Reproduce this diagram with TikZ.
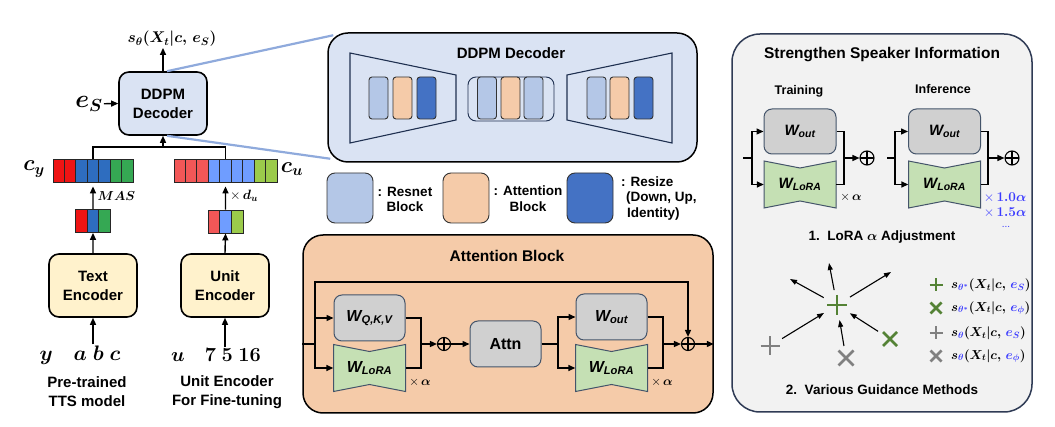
\RequirePackage{fix-cm}
\documentclass[tikz,border=0pt]{standalone}
\usepackage{amsmath}
\usepackage{bm}
\usepackage[no-math]{fontspec}
\setmainfont{Liberation Sans}
\usepackage{xcolor}
\usepackage{tikz}
\usetikzlibrary{arrows.meta, positioning, calc}

\definecolor{decfill}{HTML}{DAE3F3}
\definecolor{encyel}{HTML}{FFF2CC}
\definecolor{resnet}{HTML}{B4C7E7}
\definecolor{attnc}{HTML}{F5CBA9}
\definecolor{resize}{HTML}{4472C4}
\definecolor{wgray}{HTML}{D0D0D0}
\definecolor{loragreen}{HTML}{C5E0B4}
\definecolor{slate}{HTML}{44546A}
\definecolor{navy}{HTML}{1F3050}
\definecolor{pborder}{HTML}{2F3B55}
\definecolor{pfill}{HTML}{F2F2F2}
\definecolor{zoomblue}{HTML}{8FAADC}
\definecolor{bred}{HTML}{EE1414}
\definecolor{bblue}{HTML}{2E6DBF}
\definecolor{bgreen}{HTML}{35A853}
\definecolor{lred}{HTML}{F25757}
\definecolor{lblue}{HTML}{6F9DFF}
\definecolor{lgreen}{HTML}{9BCB4B}
\definecolor{ggreen}{HTML}{548235}
\definecolor{ggray}{HTML}{808080}
\definecolor{tblue}{HTML}{3B3BFF}

\begin{document}
\begin{tikzpicture}[x=1pt, y=-1pt,
  enc/.style={rectangle, rounded corners=10, draw=black, line width=1.6,
              fill=encyel, minimum width=88, minimum height=63,
              align=center, font=\bfseries\fontsize{15}{19}\selectfont},
  dec/.style={enc, fill=decfill},
  cell/.style={rectangle, draw=black!85, line width=0.8, inner sep=0,
               minimum width=11.43, minimum height=23},
  scell/.style={cell, minimum width=11.67},
  mth/.style={inner sep=1},
  captxt/.style={align=center, font=\bfseries\fontsize{15}{19}\selectfont},
  arr/.style={-{Stealth[length=7pt, width=6pt, inset=0pt]}, line width=1.4, black},
  ln/.style={line width=1.4, black},
  zoomln/.style={line width=2.2, zoomblue},
  bigbox/.style={rectangle, rounded corners=20, draw=black, line width=1.5,
                 minimum width=369, minimum height=129},
  blk/.style={rectangle, rounded corners=3, draw=black!80, line width=0.9,
              inner sep=0, minimum width=19, minimum height=42},
  trap/.style={draw=navy, line width=1.1},
  leg/.style={rectangle, rounded corners=8, draw=black!80, line width=0.9,
              minimum width=46, minimum height=50},
  ltxt/.style={align=center, inner sep=0, font=\bfseries\fontsize{13.5}{15.5}\selectfont},
  wbox/.style={rectangle, rounded corners=8, draw=slate, line width=1, fill=wgray,
               minimum width=71, minimum height=46, inner sep=0,
               font=\bfseries\itshape\fontsize{16}{18}\selectfont},
  wtxt/.style={inner sep=0, minimum width=72, minimum height=47,
               font=\bfseries\itshape\fontsize{16}{18}\selectfont},
  lorashape/.style={draw=slate, line width=1, fill=loragreen},
  sum/.style={circle, draw=black, line width=1.1, minimum size=13, inner sep=0,
              path picture={\draw[line width=1.1]
                (path picture bounding box.north) -- (path picture bounding box.south)
                (path picture bounding box.west) -- (path picture bounding box.east);}},
  ttl/.style={font=\bfseries\fontsize{15}{17}\selectfont},
  subttl/.style={font=\bfseries\fontsize{12.5}{14}\selectfont},
  panel/.style={rectangle, rounded corners=28, draw=pborder, line width=1.5,
                fill=pfill, minimum width=300, minimum height=378},
  mk/.style={circle, inner sep=0, minimum size=30},
  gsym/.style={line width=2.8},
  garr/.style={-{Stealth[length=7pt, width=5pt, inset=0pt]}, line width=1.1, black}
]
\useasboundingbox (0,0) rectangle (1055,427);

%% Left: DDPM decoder and its inputs
\node[dec] (dec) at (163,103.5) {DDPM\\Decoder};
\node[mth, font=\fontsize{15.5}{17}\selectfont] (sout) at (172,39) {$\bm{s_\theta(X_t|c,\,e_S)}$};
\draw[arr] (dec.north) -- (dec.north |- sout.south);
\node[mth, font=\fontsize{25}{27}\selectfont] (es) at (89,104) {$\bm{e_S}$};
\draw[arr] (es) -- (dec.west);

%% Condition bars
\foreach \i/\c in {1/bred,2/bred,3/bblue,4/bblue,5/bblue,6/bgreen,7/bgreen}
  \node[cell, fill=\c] (cy\i) at ({53+(\i-0.5)*11.43},170.5) {};
\foreach \i/\c in {1/lred,2/lred,3/lred,4/lblue,5/lblue,6/lblue,7/lblue,8/lgreen,9/lgreen}
  \node[cell, fill=\c] (cu\i) at ({174+(\i-0.5)*11.44},170.5) {};
\foreach \i/\c in {1/bred,2/bblue,3/bgreen}
  \node[scell, fill=\c] (ty\i) at ({75.5+(\i-0.5)*11.67},221) {};
\foreach \i/\c in {1/lred,2/lblue,3/lgreen}
  \node[scell, fill=\c] (tu\i) at ({208+(\i-0.5)*11.67},221.5) {};
\node[mth, font=\fontsize{22}{24}\selectfont] (cyl) at (34,169) {$\bm{c_y}$};
\node[mth, font=\fontsize{22}{24}\selectfont] (cul) at (292,169) {$\bm{c_u}$};

\coordinate (mrg) at (163,147);
\draw[ln] (cy4.north) |- (mrg);
\draw[ln] (cu5.north) |- (mrg);
\draw[arr] (mrg) -- (dec.south);
\draw[arr, shorten >=4] (ty2.north) -- (cy4.south)
  node[midway, right=3pt, mth, font=\fontsize{13}{14}\selectfont] {$\bm{MAS}$};
\draw[arr, shorten >=4] (tu2.north) -- (cu5.south)
  node[midway, right=3pt, mth, font=\fontsize{13.5}{14}\selectfont] {$\times\,\bm{d_u}$};

%% Encoders
\node[enc] (tenc) at (93,285.5) {Text\\Encoder};
\node[enc] (uenc) at (225,285.5) {Unit\\Encoder};
\draw[arr] (tenc.north) -- (ty2.south);
\draw[arr] (uenc.north) -- (tu2.south);
\node[mth, font=\fontsize{21}{23}\selectfont] (tin) at (80,355) {$\bm{y}\quad\bm{a\;b\;c}$};
\node[mth, font=\fontsize{20}{22}\selectfont] (uin) at (216,355) {$\bm{u}\quad\bm{7\;5\;16}$};
\draw[arr] (tenc.south |- tin.north) -- (tenc.south);
\draw[arr] (uenc.south |- uin.north) -- (uenc.south);
\node[captxt] (tcap) at (87,392) {Pre-trained\\TTS model};
\node[captxt] (ucap) at (227,392) {Unit Encoder\\For Fine-tuning};

%% DDPM decoder detail
\node[bigbox, fill=decfill] (big) at (512.5,97.5) {};
\node[ttl] (btitle) at (511,53) {DDPM Decoder};
\draw[trap] (350,53) -- (456,75) -- (456,120) -- (350,143) -- cycle;
\draw[trap] (567,75) -- (672,53) -- (672,143) -- (567,120) -- cycle;
\node[blk, rounded corners=8, draw=navy, minimum width=86, minimum height=44] (mid) at (511,99) {};
\foreach \n/\x/\c in {d1/378.5/resnet, d2/402.5/attnc, d3/426.5/resize,
                      d4/487/resnet, d5/510.5/attnc, d6/533.5/resnet,
                      d7/596.5/resnet, d8/619.5/attnc, d9/643.5/resize}
  \node[blk, fill=\c] (\n) at (\x,98) {};
\draw[zoomln] ($(dec.north)+(4,0)$) -- ($(big.north west)+(6,3)$);
\draw[zoomln] ($(dec.south)+(4,0)$) -- ($(big.south west)+(3,-4)$);

%% Legend
\node[leg, fill=resnet] (lg1) at (350,198) {};
\node[ltxt] (lt1) at (405,199.5) {: Resnet\\Block};
\node[leg, fill=attnc] (lg2) at (466,198) {};
\node[ltxt] (lt2) at (528,198.5) {: Attention\\Block};
\node[leg, fill=resize] (lg3) at (590,198) {};
\node[ltxt, align=left, anchor=west] (lt3) at (621,198.5)
  {: Resize\\\hspace*{5pt}(Down, Up,\\\hspace*{6pt}Identity)};

%% Attention block
\node[bigbox, fill=attnc, minimum width=410, minimum height=178] (abox) at (508,324) {};
\node[ttl, font=\bfseries\fontsize{15.5}{17}\selectfont] (atitle) at (507,256) {Attention Block};
\foreach \n/\x/\y in {la/369.5/368, lb/611.5/368}{
  \draw[lorashape] (\x-36,\y-23.5) -- (\x,\y-16.5) -- (\x+36,\y-23.5)
    -- (\x+36,\y+23.5) -- (\x,\y+16.5) -- (\x-36,\y+23.5) -- cycle;
  \node[wtxt] (\n) at (\x,\y) {W\textsubscript{LoRA}};
}
\node[wbox] (qkv) at (369.5,318) {W\textsubscript{Q,K,V}};
\node[sum] (s1) at (444,344) {};
\node[wbox, font=\bfseries\fontsize{16}{18}\selectfont] (attn) at (505.5,344) {Attn};
\node[wbox] (wo) at (611.5,317) {W\textsubscript{out}};
\node[sum] (s2) at (688,344) {};
\coordinate (sp1) at (315,344);
\coordinate (top) at (315,282);
\coordinate (m1) at (421,344);
\coordinate (m2) at (558,344);
\coordinate (m3) at (663,344);
\draw[ln] (abox.west |- sp1) -- (sp1);
\draw[arr] (sp1) |- (qkv.west);
\draw[arr] (sp1) |- (la.west);
\draw[arr] (sp1) |- (s2.north |- top) -- (s2.north);
\draw[ln] (qkv.east) -| (m1);
\draw[ln] (la.east) -| (m1);
\draw[arr] (m1) -- (s1);
\draw[arr] (s1) -- (attn);
\draw[ln] (attn) -- (m2);
\draw[arr] (m2) |- (wo.west);
\draw[arr] (m2) |- (lb.west);
\draw[ln] (wo.east) -| (m3);
\draw[ln] (lb.east) -| (m3);
\draw[arr] (m3) -- (s2);
\draw[arr] (s2) -- (s2 -| abox.east);
\node[mth, font=\fontsize{12.5}{14}\selectfont] (xa1) at (420,382) {$\times\,\bm{\alpha}$};
\node[mth, font=\fontsize{12.5}{14}\selectfont] (xa2) at (662,382) {$\times\,\bm{\alpha}$};

%% Right panel
\node[panel] (pnl) at (882,223) {};
\node[ttl, font=\bfseries\fontsize{15.5}{17}\selectfont] (ptitle) at (882,55) {Strengthen Speaker Information};
\node[subttl] (trn) at (799,91) {Training};
\node[subttl] (inf) at (943,89) {Inference};
\foreach \n/\x/\y in {lc/800/184.5, ld/944.5/184.5}{
  \draw[lorashape] (\x-36,\y-23.5) -- (\x,\y-16.5) -- (\x+36,\y-23.5)
    -- (\x+36,\y+23.5) -- (\x,\y+16.5) -- (\x-36,\y+23.5) -- cycle;
  \node[wtxt, font=\bfseries\itshape\fontsize{15}{17}\selectfont] (\n) at (\x,\y) {W\textsubscript{LoRA}};
}
\node[wbox, minimum width=72, minimum height=45, font=\bfseries\itshape\fontsize{15}{17}\selectfont] (wo1) at (800,131.5) {W\textsubscript{out}};
\node[wbox, minimum width=72, minimum height=45, font=\bfseries\itshape\fontsize{15}{17}\selectfont] (wo2) at (944.5,131.5) {W\textsubscript{out}};
\node[sum, minimum size=14] (s3) at (867,158) {};
\node[sum, minimum size=14] (s4) at (1012,158) {};
\coordinate (in1) at (743,158);
\coordinate (sp2) at (752,158);
\coordinate (m4) at (844,158);
\coordinate (in2) at (887,158);
\coordinate (sp3) at (895,158);
\coordinate (m5) at (988,158);
\draw[ln] (in1) -- (sp2);
\draw[arr] (sp2) |- (wo1.west);
\draw[arr] (sp2) |- (lc.west);
\draw[ln] (wo1.east) -| (m4);
\draw[ln] (lc.east) -| (m4);
\draw[arr] (m4) -- (s3);
\draw[ln] (in2) -- (sp3);
\draw[arr] (sp3) |- (wo2.west);
\draw[arr] (sp3) |- (ld.west);
\draw[ln] (wo2.east) -| (m5);
\draw[ln] (ld.east) -| (m5);
\draw[arr] (m5) -- (s4);
\node[mth, font=\fontsize{12.5}{14}\selectfont] (xa3) at (851,197) {$\times\,\bm{\alpha}$};
\node[mth, font=\fontsize{13.5}{14}\selectfont, text=tblue] (xa4) at (1005,198) {$\times\,\bm{1.0\alpha}$};
\node[mth, font=\fontsize{13.5}{14}\selectfont, text=tblue] (xa5) at (1005,213) {$\times\,\bm{1.5\alpha}$};
\node[mth, font=\fontsize{10}{12}\selectfont, text=tblue] (xa6) at (1006,227) {...};
\node[ttl, font=\bfseries\fontsize{13.5}{15}\selectfont] (st1) at (882,237) {1.\ \ LoRA $\bm{\alpha}$ Adjustment};

%% Guidance
\node[mk] (g0) at (837,305) {};
\node[mk, minimum size=28] (g1) at (770,346) {};
\node[mk, minimum size=24] (g2) at (846,358) {};
\node[mk, minimum size=28] (g3) at (890,339) {};
\coordinate (t1) at (829,263);
\coordinate (t2) at (790,279);
\coordinate (t3) at (891,272);
\foreach \t in {t1,t2,t3}
  \draw[garr] (g0) -- (\t);
\foreach \g in {g1,g2,g3}
  \draw[garr] (\g) -- (g0);
\node[mk, minimum size=16] (k1) at (936,285) {};
\node[mk, minimum size=16] (k2) at (936,308) {};
\node[mk, minimum size=16] (k3) at (936,333) {};
\node[mk, minimum size=16] (k4) at (936,356) {};
\foreach \n/\a/\c in {g0/10/ggreen, g1/9.5/ggray, k1/6.5/ggreen, k3/6.5/ggray}
  \draw[gsym, \c] ($(\n)+(-\a,0)$) -- ($(\n)+(\a,0)$) ($(\n)+(0,-\a)$) -- ($(\n)+(0,\a)$);
\foreach \n/\a/\c in {g2/7.5/ggray, g3/7/ggreen, k2/5.5/ggreen, k4/5.5/ggray}
  \draw[gsym, \c] ($(\n)+(-\a,-\a)$) -- ($(\n)+(\a,\a)$) ($(\n)+(-\a,\a)$) -- ($(\n)+(\a,-\a)$);
\node[mth, anchor=west, font=\fontsize{13}{14}\selectfont] (q1) at (950,285)
  {$\bm{s}_{\textcolor{tblue}{\bm{\theta^*}}}\bm{(X_t|c,}\,\textcolor{tblue}{\bm{e_S}}\bm{)}$};
\node[mth, anchor=west, font=\fontsize{13}{14}\selectfont] (q2) at (950,308)
  {$\bm{s}_{\textcolor{tblue}{\bm{\theta^*}}}\bm{(X_t|c,}\,\textcolor{tblue}{\bm{e_\phi}}\bm{)}$};
\node[mth, anchor=west, font=\fontsize{13}{14}\selectfont] (q3) at (950,333)
  {$\bm{s}_{\textcolor{tblue}{\bm{\theta}}}\bm{(X_t|c,}\,\textcolor{tblue}{\bm{e_S}}\bm{)}$};
\node[mth, anchor=west, font=\fontsize{13}{14}\selectfont] (q4) at (950,356)
  {$\bm{s}_{\textcolor{tblue}{\bm{\theta}}}\bm{(X_t|c,}\,\textcolor{tblue}{\bm{e_\phi}}\bm{)}$};
\node[ttl, font=\bfseries\fontsize{13.5}{15}\selectfont] (st2) at (882,390) {2.\ \ Various Guidance Methods};
\end{tikzpicture}
\end{document}
